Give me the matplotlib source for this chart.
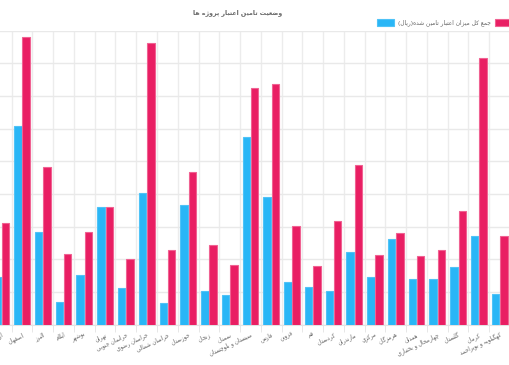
import numpy as np
import matplotlib.pyplot as plt
from matplotlib.patches import Rectangle

# Persian labels and values (values read in grid-line units, y axis is cropped away)
provinces = ["اردبیل", "اصفهان", "البرز", "ایلام", "بوشهر", "تهران", "خراسان جنوبی",
             "خراسان رضوی", "خراسان شمالی", "خوزستان", "زنجان", "سمنان",
             "سیستان و بلوچستان", "فارس", "قزوین", "قم", "کردستان", "مازندران",
             "مرکزی", "هرمزگان", "همدان", "چهارمحال و بختیاری", "گلستان", "کرمان",
             "کهگیلویه و بویراحمد"]
provided = [1.46, 6.09, 2.84, 0.68, 1.52, 3.60, 1.13, 4.03, 0.65, 3.67, 1.03, 0.90, 5.73,
            3.91, 1.30, 1.16, 1.03, 2.23, 1.44, 2.63, 1.39, 1.39, 1.76, 2.70, 0.93]
required = [3.12, 8.79, 4.83, 2.16, 2.84, 3.60, 2.00, 8.61, 2.28, 4.66, 2.42, 1.82, 7.23,
            7.35, 3.01, 1.79, 3.18, 4.88, 2.12, 2.80, 2.09, 2.28, 3.46, 8.15, 2.71]
title = "وضعیت تامین اعتبار پروژه ها"
label_provided = "جمع کل میزان اعتبار تامین شده(ریال)"

BLUE = "#29b6f6"
RED = "#e91e63"

# matplotlib has no arabic shaping, so pick presentation forms by hand
# (isolated, final, initial, medial); two entries -> joins only to the right
FORMS = {
    "آ": (0xFE81, 0xFE82), "ا": (0xFE8D, 0xFE8E), "ب": (0xFE8F, 0xFE90, 0xFE91, 0xFE92),
    "پ": (0xFB56, 0xFB57, 0xFB58, 0xFB59), "ت": (0xFE95, 0xFE96, 0xFE97, 0xFE98),
    "ث": (0xFE99, 0xFE9A, 0xFE9B, 0xFE9C), "ج": (0xFE9D, 0xFE9E, 0xFE9F, 0xFEA0),
    "چ": (0xFB7A, 0xFB7B, 0xFB7C, 0xFB7D), "ح": (0xFEA1, 0xFEA2, 0xFEA3, 0xFEA4),
    "خ": (0xFEA5, 0xFEA6, 0xFEA7, 0xFEA8), "د": (0xFEA9, 0xFEAA), "ذ": (0xFEAB, 0xFEAC),
    "ر": (0xFEAD, 0xFEAE), "ز": (0xFEAF, 0xFEB0), "ژ": (0xFB8A, 0xFB8B),
    "س": (0xFEB1, 0xFEB2, 0xFEB3, 0xFEB4), "ش": (0xFEB5, 0xFEB6, 0xFEB7, 0xFEB8),
    "ص": (0xFEB9, 0xFEBA, 0xFEBB, 0xFEBC), "ض": (0xFEBD, 0xFEBE, 0xFEBF, 0xFEC0),
    "ط": (0xFEC1, 0xFEC2, 0xFEC3, 0xFEC4), "ظ": (0xFEC5, 0xFEC6, 0xFEC7, 0xFEC8),
    "ع": (0xFEC9, 0xFECA, 0xFECB, 0xFECC), "غ": (0xFECD, 0xFECE, 0xFECF, 0xFED0),
    "ف": (0xFED1, 0xFED2, 0xFED3, 0xFED4), "ق": (0xFED5, 0xFED6, 0xFED7, 0xFED8),
    "ک": (0xFB8E, 0xFB8F, 0xFB90, 0xFB91), "گ": (0xFB92, 0xFB93, 0xFB94, 0xFB95),
    "ل": (0xFEDD, 0xFEDE, 0xFEDF, 0xFEE0), "م": (0xFEE1, 0xFEE2, 0xFEE3, 0xFEE4),
    "ن": (0xFEE5, 0xFEE6, 0xFEE7, 0xFEE8), "و": (0xFEED, 0xFEEE),
    "ه": (0xFEE9, 0xFEEA, 0xFEEB, 0xFEEC), "ی": (0xFBFC, 0xFBFD, 0xFBFE, 0xFBFF),
}
MIRROR = {"(": ")", ")": "("}


def fa(text):
    out = []
    for i, ch in enumerate(text):
        if ch not in FORMS:
            out.append(MIRROR.get(ch, ch))
            continue
        f = FORMS[ch]
        prev = text[i - 1] if i > 0 else ""
        nxt = text[i + 1] if i + 1 < len(text) else ""
        join_prev = prev in FORMS and len(FORMS[prev]) == 4
        join_next = nxt in FORMS and len(f) == 4
        if join_prev and join_next:
            out.append(chr(f[3]))
        elif join_prev:
            out.append(chr(f[1]))
        elif join_next:
            out.append(chr(f[2]))
        else:
            out.append(chr(f[0]))
    return "".join(reversed(out))


def fit_width(t, px):
    # shrink/grow a text so it spans about px pixels, like the reference
    r = fig.canvas.get_renderer()
    w = t.get_window_extent(r).width
    t.set_fontsize(t.get_fontsize() * px / w)


plt.rcParams["font.family"] = ["DejaVu Sans"]

fig = plt.figure(figsize=(5.1, 3.65), dpi=100)
W, H = 510.0, 365.0
# the reference is a crop of a wider chart: axes run off both edges
ax = fig.add_axes([0, 1 - 324.5 / H, 1, (324.5 - 30.5) / H])

x = np.arange(len(provinces))
bw = 0.36
ax.bar(x - 0.2, provided, bw, color=BLUE, edgecolor="#4fc3f7", linewidth=0.8, zorder=3)
ax.bar(x + 0.2, required, bw, color=RED, edgecolor="#f06292", linewidth=0.8, zorder=3)

step = 20.87
x0 = -1.3 / step
ax.set_xlim(x0, x0 + W / step)
ax.set_ylim(0, 9)

ax.set_yticks(np.arange(0, 10))
ax.grid(axis="y", color="#e9e9e9", linewidth=1, zorder=0)
ax.set_xticks(x)
ax.set_xticks(x + 0.5, minor=True)
ax.grid(axis="x", which="minor", color="#ececec", linewidth=1, zorder=0)
ax.tick_params(axis="x", which="major", length=0, pad=5)
ax.tick_params(axis="x", which="minor", length=5, color="#e3e3e3")
ax.tick_params(axis="y", left=False, labelleft=False)
ax.set_xticklabels([fa(p) for p in provinces], rotation=25, ha="right",
                   rotation_mode="anchor", fontsize=4.0, color="#666666")
for s in ["top", "left", "right"]:
    ax.spines[s].set_visible(False)
ax.spines["bottom"].set_color("#e3e3e3")

t = fig.text(238 / W, 1 - 13 / H, fa(title), ha="center", va="center",
             fontsize=7.5, fontweight="bold", color="#666666")
fit_width(t, 90)

# legend (blue entry fully visible, red entry cut by the right edge)
fig.patches.append(Rectangle((377 / W, 1 - 25.5 / H), 17 / W, 6 / H, transform=fig.transFigure,
                             facecolor=BLUE, edgecolor="#4fc3f7", linewidth=0.8))
t = fig.text(398 / W, 1 - 22.5 / H, fa(label_provided), ha="left", va="center",
             fontsize=5.5, color="#666666")
fit_width(t, 92)
fig.patches.append(Rectangle((495 / W, 1 - 25.5 / H), 17 / W, 6 / H, transform=fig.transFigure,
                             facecolor=RED, edgecolor="#f06292", linewidth=0.8))

fig.savefig("out.png", dpi=100)
